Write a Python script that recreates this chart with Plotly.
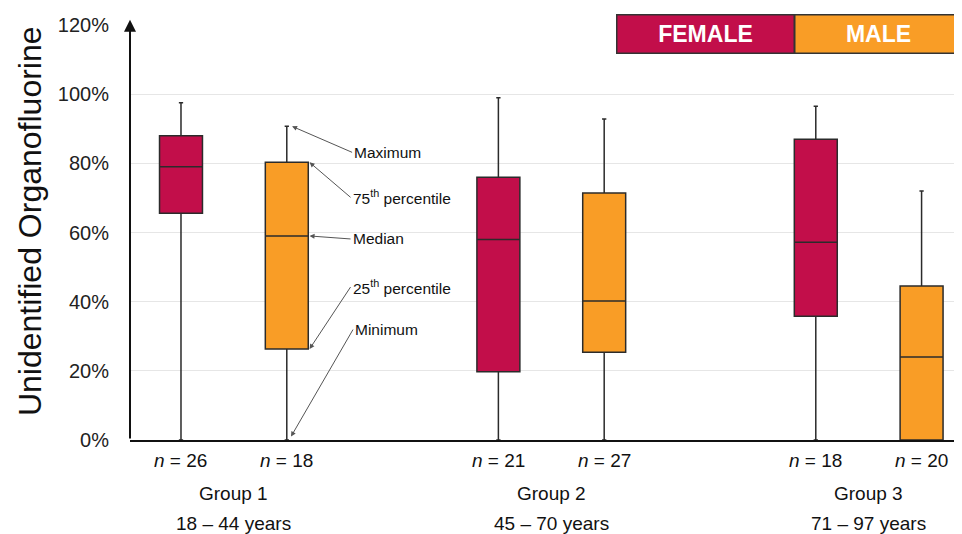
import plotly.graph_objects as go

# ---- data ----
positions = [0, 1, 3, 4, 6, 7]
sexes = ["Female", "Male", "Female", "Male", "Female", "Male"]
n_labels = ["26", "18", "21", "27", "18", "20"]
mins = [0.0, 0.0, 0.0, 0.0, 0.0, 0.0]
q1s = [0.656, 0.263, 0.197, 0.254, 0.358, 0.0]
medians = [0.79, 0.59, 0.58, 0.402, 0.572, 0.24]
q3s = [0.88, 0.803, 0.76, 0.714, 0.87, 0.445]
maxs = [0.975, 0.907, 0.99, 0.928, 0.965, 0.72]
group_names = ["Group 1", "Group 2", "Group 3"]
group_ages = ["18 – 44 years", "45 – 70 years", "71 – 97 years"]
group_centers = [0.5, 3.5, 6.5]
y_ticks = [0, 0.2, 0.4, 0.6, 0.8, 1.0, 1.2]
y_ticktext = ["0%", "20%", "40%", "60%", "80%", "100%", "120%"]

colors = {"Female": "#C20E4A", "Male": "#F99D26"}
FONT = "Liberation Sans, Arial, sans-serif"
X_LEFT = -0.482

fig = go.Figure()
for i, p in enumerate(positions):
    fig.add_trace(go.Box(
        x=[p], q1=[q1s[i]], median=[medians[i]], q3=[q3s[i]],
        lowerfence=[mins[i]], upperfence=[maxs[i]],
        width=0.406, whiskerwidth=0.1,
        fillcolor=colors[sexes[i]],
        line=dict(color="#2b2b2b", width=1.5),
        showlegend=False, hoverinfo="skip",
    ))

ann = []
# n labels
for p, n in zip(positions, n_labels):
    ann.append(dict(x=p, y=-0.05, xref="x", yref="paper", showarrow=False,
                    text=f"<i>n</i> = {n}", font=dict(size=19, color="#111", family=FONT),
                    xanchor="center", yanchor="middle"))
for c, g, a in zip(group_centers, group_names, group_ages):
    ann.append(dict(x=c, y=-0.13, xref="x", yref="paper", showarrow=False,
                    xanchor="center", yanchor="middle",
                    text=g, font=dict(size=19, color="#111", family=FONT)))
    ann.append(dict(x=c, y=-0.202, xref="x", yref="paper", showarrow=False,
                    xanchor="center", yanchor="middle",
                    text=a, font=dict(size=19, color="#111", family=FONT)))

# callouts
callouts = [
    ("Maximum", 1.05, maxs[1], 60, 26),
    ("75<sup>th</sup> percentile", 1.215, q3s[1], 41, 35),
    ("Median", 1.215, medians[1], 41, 3),
    ("25<sup>th</sup> percentile", 1.215, q1s[1], 41, -62),
    ("Minimum", 1.04, 0.01, 62, -107),
]
for t, hx, hy, ax, ay in callouts:
    ann.append(dict(x=hx, y=hy, xref="x", yref="y", text=t, showarrow=True,
                    ax=ax, ay=ay, xanchor="left", yanchor="middle",
                    arrowhead=2, arrowsize=1, arrowwidth=1, arrowcolor="#555",
                    font=dict(size=15.5, color="#111", family=FONT)))

# y-axis arrow
ann.append(dict(x=X_LEFT, y=1.215, xref="x", yref="y", ax=X_LEFT, ay=0,
                axref="x", ayref="y", text="", showarrow=True,
                arrowhead=2, arrowsize=1.2, arrowwidth=2, arrowcolor="#111"))

# y title
ann.append(dict(x=-0.12, y=0.528, xref="paper", yref="paper", showarrow=False,
                xanchor="center", yanchor="middle",
                text="Unidentified Organofluorine", textangle=-90,
                font=dict(size=32, color="#111", family=FONT)))

# legend keys
ann.append(dict(x=0.6923, y=0.978, xref="paper", yref="paper", showarrow=False,
                xanchor="center", yanchor="middle", width=176, height=37,
                bgcolor=colors["Female"], bordercolor="#333", borderwidth=1.5, borderpad=0,
                text="<b>FEMALE</b>", font=dict(size=23, color="white", family=FONT)))
ann.append(dict(x=0.8997, y=0.978, xref="paper", yref="paper", showarrow=False,
                xanchor="center", yanchor="middle", width=166, height=37,
                bgcolor=colors["Male"], bordercolor="#333", borderwidth=1.5, borderpad=0,
                text="<b>MALE</b>", font=dict(size=23, color="white", family=FONT)))

shapes = [
    # white backdrop behind callout labels (gridlines interrupted)
    dict(type="rect", xref="x", yref="y", x0=1.58, x1=2.72, y0=0.29, y1=0.87,
         fillcolor="white", line=dict(width=0), layer="below"),
]

fig.update_layout(
    width=954, height=526,
    margin=dict(l=122, r=0, t=17, b=94),
    paper_bgcolor="white", plot_bgcolor="white",
    font=dict(family=FONT),
    annotations=ann, shapes=shapes,
    xaxis=dict(range=[X_LEFT, 7.382], showticklabels=False, showgrid=False, zeroline=False,
               showline=True, linecolor="#111", linewidth=2, ticks=""),
    yaxis=dict(range=[0, 1.2], tickvals=y_ticks, ticktext=y_ticktext,
               tickfont=dict(size=20, color="#222", family=FONT),
               showgrid=True, gridcolor="#e6e6e6", gridwidth=1, zeroline=False,
               showline=False, ticks="", ticklabelstandoff=20),
)

fig.write_html("out.html")
